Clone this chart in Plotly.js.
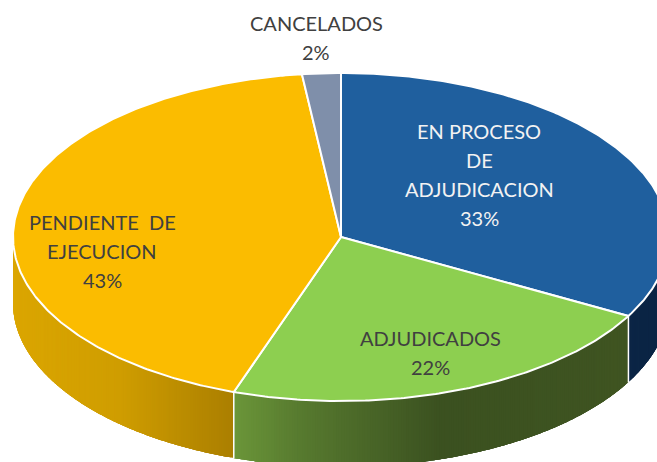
<!DOCTYPE html>
<html><head><meta charset="utf-8">
<script src="https://cdn.plot.ly/plotly-3.0.1.min.js"></script>
<style>html,body{margin:0;padding:0;background:#fff}#c{width:657px;height:462px}</style>
</head><body><div id="c"></div>
<script>
var categories = ["EN PROCESO DE ADJUDICACION", "ADJUDICADOS", "PENDIENTE  DE EJECUCION", "CANCELADOS"];
var values = [33, 22.3, 42.8, 1.9];
var labelLines = [
  ["EN PROCESO", "DE", "ADJUDICACION"],
  ["ADJUDICADOS"],
  ["PENDIENTE\u00a0 DE", "EJECUCION"],
  ["CANCELADOS"]
];
var topColors = ["#1F5F9E", "#8DCF50", "#FBBC00", "#7F8FAA"];
var labelColors = ["#F2F2F2", "#404040", "#404040", "#404040"];
var labelAnchors = [[479, 130.5], [430, 337.5], [102, 221.5], [316, 22.5]];
var lineGap = 29.2;

// drawing geometry of the tilted disc
var cx = 341, cy = 237, rx = 328, ry = 164, depth = 66;
function px(t) { return cx + rx * Math.sin(t); }
function py(t) { return cy - ry * Math.cos(t); }

// colour stops of each wall, by x pixel
var wallStops = [
  [[600, "#0B2545"], [660, "#0B2545"]],
  [[234, "#6B9639"], [300, "#577A2F"], [440, "#3B5120"], [628, "#3F5421"]],
  [[13, "#DBA600"], [120, "#CF9D00"], [233, "#AB7F00"]],
  [[0, "#5F6B80"], [657, "#5F6B80"]]
];
function hex(c) { return [1, 3, 5].map(function (i) { return parseInt(c.substr(i, 2), 16); }); }
function wallColor(stops, x) {
  if (x <= stops[0][0]) return stops[0][1];
  for (var i = 1; i < stops.length; i++) {
    if (x <= stops[i][0]) {
      var f = (x - stops[i - 1][0]) / (stops[i][0] - stops[i - 1][0]);
      var a = hex(stops[i - 1][1]), b = hex(stops[i][1]);
      return "rgb(" + a.map(function (v, k) { return Math.round(v + (b[k] - v) * f); }).join(",") + ")";
    }
  }
  return stops[stops.length - 1][1];
}

var total = values.reduce(function (a, b) { return a + b; }, 0);
var traces = [], annotations = [];
var start = 0, spans = [];
values.forEach(function (v) {
  var end = start + v / total * 2 * Math.PI;
  spans.push([start, end]);
  start = end;
});

// side walls (only the front half): overlapping strips so no white shows through
spans.forEach(function (s, i) {
  var a = Math.max(s[0], Math.PI / 2), b = Math.min(s[1], 3 * Math.PI / 2);
  if (b <= a) return;
  var n = Math.ceil((b - a) / 0.008);
  for (var k = 0; k < n; k++) {
    var ts = [];
    for (var j = k; j <= Math.min(k + 4, n); j++) ts.push(a + (b - a) * j / n);
    var xs = ts.map(px), ys = ts.map(py);
    var col = wallColor(wallStops[i], (xs[0] + xs[1]) / 2);
    var rx_ = xs.slice().reverse(), ry_ = ys.slice().reverse().map(function (y) { return y + depth; });
    traces.push({
      type: "scatter", mode: "none", fill: "toself", fillcolor: col,
      x: xs.concat(rx_, [xs[0]]), y: ys.concat(ry_, [ys[0]]),
      hoverinfo: "skip", showlegend: false
    });
  }
});
// white seams between walls
spans.forEach(function (s) {
  var t = s[1];
  if (t > Math.PI / 2 && t < 3 * Math.PI / 2) {
    traces.push({
      type: "scatter", mode: "lines", x: [px(t), px(t)], y: [py(t), py(t) + depth],
      line: { color: "#FFFFFF", width: 1.5 }, hoverinfo: "skip", showlegend: false
    });
  }
});
// top faces
spans.forEach(function (s, i) {
  var xs = [cx], ys = [cy], n = Math.ceil((s[1] - s[0]) / 0.01);
  for (var k = 0; k <= n; k++) {
    var t = s[0] + (s[1] - s[0]) * k / n;
    xs.push(px(t)); ys.push(py(t));
  }
  xs.push(cx); ys.push(cy);
  traces.push({
    type: "scatter", mode: "lines", fill: "toself", fillcolor: topColors[i], name: categories[i],
    x: xs, y: ys, line: { color: "#FFFFFF", width: 2 }, hoverinfo: "skip", showlegend: false
  });
});
// labels
values.forEach(function (v, i) {
  var lines = labelLines[i].concat([Math.round(v) + "%"]);
  lines.forEach(function (txt, j) {
    annotations.push({
      x: labelAnchors[i][0], y: labelAnchors[i][1] + j * lineGap, xref: "x", yref: "y",
      text: txt, showarrow: false, xanchor: "center", yanchor: "middle",
      font: { family: "Lato, Carlito, sans-serif", size: 20, color: labelColors[i] }
    });
  });
});

Plotly.newPlot("c", traces, {
  width: 657, height: 462, margin: { l: 0, r: 0, t: 0, b: 0 },
  paper_bgcolor: "#FFFFFF", plot_bgcolor: "#FFFFFF", showlegend: false,
  xaxis: { range: [0, 657], visible: false, fixedrange: true },
  yaxis: { range: [462, 0], visible: false, fixedrange: true },
  annotations: annotations
}, { displayModeBar: false, staticPlot: true });
</script></body></html>
